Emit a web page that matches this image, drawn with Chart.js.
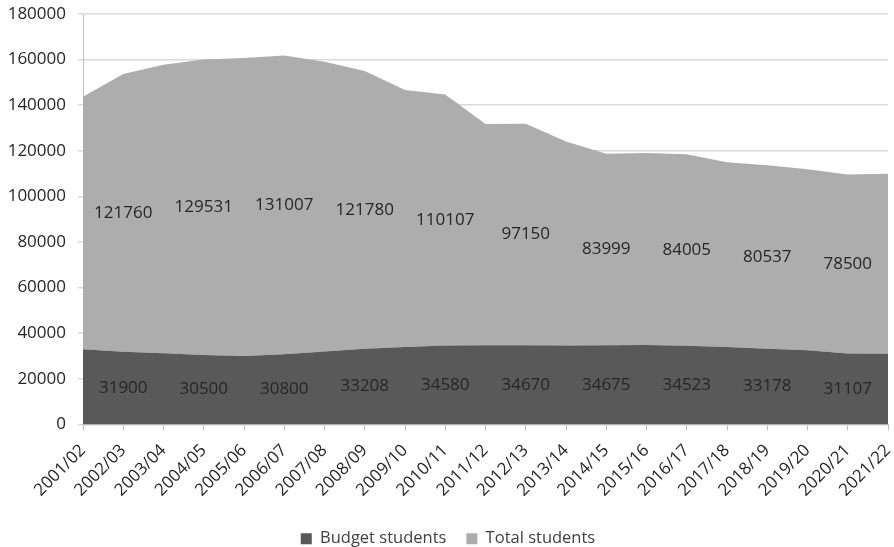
<!DOCTYPE html>
<html>
<head>
<meta charset="utf-8">
<script src="https://cdn.jsdelivr.net/npm/chart.js@4.4.1/dist/chart.umd.min.js"></script>
<style>
  html, body { margin: 0; padding: 0; background: #fff; }
  #wrap { width: 894px; height: 547px; }
</style>
</head>
<body>
<div id="wrap"><canvas id="chart"></canvas></div>
<script>
// Academic years on the x axis
const years = ['2001/02', '2002/03', '2003/04', '2004/05', '2005/06', '2006/07', '2007/08',
    '2008/09', '2009/10', '2010/11', '2011/12', '2012/13', '2013/14', '2014/15', '2015/16',
    '2016/17', '2017/18', '2018/19', '2019/20', '2020/21', '2021/22'];

// Budget-funded students (bottom layer)
const budgetStudents = [33000, 31900, 31200, 30500, 30000, 30800, 32000, 33208, 34000, 34580,
    34700, 34670, 34600, 34675, 34800, 34523, 34000, 33178, 32500, 31107, 31000];

// Total students (stacked on top of the budget layer)
const totalStudents = [110700, 121760, 126500, 129531, 130700, 131007, 127100, 121780, 112700, 110107,
    97100, 97150, 89500, 83999, 84200, 84005, 81000, 80537, 79400, 78500, 78900];

// Only every other year carries a value label
const labelledYears = ['2002/03', '2004/05', '2006/07', '2008/09', '2010/11', '2012/13',
    '2014/15', '2016/17', '2018/19', '2020/21'];

const yTicks = [0, 20000, 40000, 60000, 80000, 100000, 120000, 140000, 160000, 180000];

const FONT = '"Open Sans", "Noto Sans", sans-serif';

// Draw the value in the middle of each stacked band
const bandLabels = {
    id: 'bandLabels',
    afterDatasetsDraw(chart) {
        const ctx = chart.ctx;
        const y = chart.scales.y;
        const x = chart.scales.x;
        ctx.save();
        ctx.font = '17px ' + FONT;
        ctx.fillStyle = '#262626';
        ctx.textAlign = 'center';
        ctx.textBaseline = 'middle';
        labelledYears.forEach(yr => {
            const i = years.indexOf(yr);
            const px = x.getPixelForValue(i);
            const b = budgetStudents[i];
            const t = totalStudents[i];
            ctx.fillText(String(b), px, y.getPixelForValue(b / 2));
            ctx.fillText(String(t), px, y.getPixelForValue(b + t / 2));
        });
        ctx.restore();
    }
};

new Chart(document.getElementById('chart'), {
    type: 'line',
    data: {
        labels: years,
        datasets: [{
            label: 'Budget students',
            data: budgetStudents,
            backgroundColor: '#595959',
            borderWidth: 0,
            pointRadius: 0,
            fill: 'origin',
            tension: 0
        }, {
            label: 'Total students',
            data: totalStudents,
            backgroundColor: '#adadad',
            borderWidth: 0,
            pointRadius: 0,
            fill: '-1',
            tension: 0
        }]
    },
    options: {
        responsive: true,
        maintainAspectRatio: false,
        animation: false,
        layout: { padding: { top: 14, right: 6, left: 8, bottom: -10 } },
        plugins: {
            legend: {
                position: 'bottom',
                labels: {
                    boxWidth: 11,
                    boxHeight: 11,
                    padding: 20,
                    color: '#404040',
                    font: { family: FONT, size: 16.5 }
                }
            },
            tooltip: { enabled: false }
        },
        scales: {
            x: {
                stacked: true,
                offset: false,
                afterFit: axis => { axis.paddingRight = 0; },
                grid: { drawOnChartArea: false, drawTicks: true, tickLength: 6, color: '#bfbfbf' },
                border: { color: '#bfbfbf' },
                ticks: {
                    minRotation: 45,
                    maxRotation: 45,
                    autoSkip: false,
                    color: '#262626',
                    padding: 10,
                    font: { family: FONT, size: 17 }
                }
            },
            y: {
                stacked: true,
                min: 0,
                max: 180000,
                afterBuildTicks: axis => { axis.ticks = yTicks.map(v => ({ value: v })); },
                afterFit: axis => { axis.width = 75; axis.paddingTop = 0; axis.paddingBottom = 0; },
                grid: { color: '#d9d9d9', lineWidth: 1.5, tickLength: 5 },
                border: { color: '#bfbfbf' },
                ticks: {
                    color: '#262626',
                    padding: 12,
                    callback: v => String(v),
                    font: { family: FONT, size: 17 }
                }
            }
        }
    },
    plugins: [bandLabels]
});
</script>
</body>
</html>
